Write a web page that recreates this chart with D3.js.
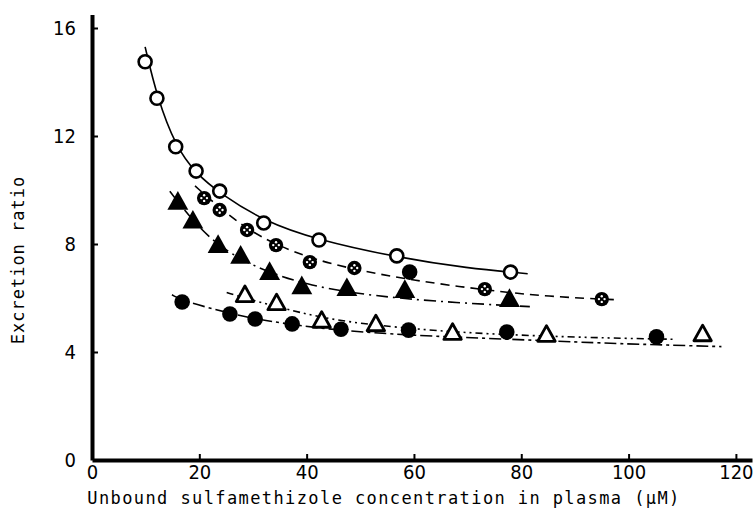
<!DOCTYPE html>
<html>
<head>
<meta charset="utf-8">
<script src="https://cdn.jsdelivr.net/npm/d3@7"></script>
<style>
  body { margin: 0; background: #fff; }
  svg text { font-family: "DejaVu Sans Mono", "Liberation Mono", monospace; fill: #000; }
</style>
</head>
<body>
<div id="chart"></div>
<script>
// data: [unbound conc (uM), excretion ratio]
const openCircles = [[9.9,14.75],[12.1,13.4],[15.6,11.6],[19.4,10.7],[23.8,9.96],[32.0,8.78],[42.3,8.15],[56.8,7.56],[78.0,6.96]];
const crossedCircles = [[20.9,9.7],[23.8,9.26],[28.9,8.52],[34.3,7.96],[40.6,7.33],[48.9,7.11],[73.2,6.33],[95.0,5.96]];
const extraFilled = [[59.2,6.96]];
const filledTriangles = [[16.0,9.55],[18.8,8.85],[23.5,7.95],[27.7,7.55],[33.1,6.95],[39.1,6.42],[47.5,6.35],[58.3,6.28],[77.8,5.95]];
const openTriangles = [[28.5,6.1],[34.4,5.8],[42.8,5.15],[52.9,5.02],[67.2,4.7],[84.7,4.63],[113.8,4.65]];
const filledCircles = [[16.8,5.85],[25.7,5.41],[30.4,5.22],[37.3,5.04],[46.4,4.84],[59.0,4.81],[77.3,4.74],[105.2,4.56]];

// fitted curves
const openCircleFit = [[9.9,15.3],[12.1,13.45],[15.6,11.6],[19.4,10.6],[24,9.85],[32,8.85],[42,8.15],[57,7.5],[70,7.1],[81.2,6.9]];
const crossedFit = [[19.2,10.15],[24,9.3],[29,8.55],[34,8.0],[41,7.45],[49,7.05],[60,6.65],[73,6.3],[85,6.05],[98.3,5.93]];
const filledTriFit = [[14.5,9.95],[19,8.8],[23.5,7.95],[28,7.4],[33,6.95],[40,6.5],[48,6.2],[58,5.97],[70,5.8],[81.6,5.68]];
const openTriFit = [[25.1,6.2],[28.5,6.0],[34,5.7],[43,5.25],[53,4.98],[68,4.72],[85,4.58],[100,4.5],[108.9,4.47]];
const filledCircleFit = [[14.9,6.12],[17,5.88],[26,5.42],[30,5.24],[37,5.02],[46,4.8],[59,4.62],[77,4.48],[95,4.33],[105,4.27],[117.3,4.2]];

const xTicks = [0, 20, 40, 60, 80, 100, 120];
const yTicks = [0, 4, 8, 12, 16];

const width = 754, height = 512;
const svg = d3.select('#chart').append('svg')
    .attr('width', width)
    .attr('height', height);

const xScale = d3.scaleLinear().domain([0, 123]).range([92, 752]);
const yScale = d3.scaleLinear().domain([0, 16.5]).range([460, 14.5]);

// fit lines
const line = d3.line()
    .x(d => xScale(d[0]))
    .y(d => yScale(d[1]))
    .curve(d3.curveBasis);

const fits = [
    {data: openCircleFit, dash: null},
    {data: crossedFit, dash: '9,6'},
    {data: filledTriFit, dash: '12,5,2,5'},
    {data: openTriFit, dash: '7,4,2,4,2,4'},
    {data: filledCircleFit, dash: '12,4,3,4'}
];

svg.selectAll('.fit')
    .data(fits)
    .join('path')
    .attr('class', 'fit')
    .attr('d', d => line(d.data))
    .attr('fill', 'none')
    .attr('stroke', '#000')
    .attr('stroke-width', 1.6)
    .attr('stroke-dasharray', d => d.dash);

// markers
const triPath = (cx, cy, s) => `M${cx},${cy - s * 0.62}L${cx + s * 0.58},${cy + s * 0.42}L${cx - s * 0.58},${cy + s * 0.42}Z`;

svg.selectAll('.open-circle')
    .data(openCircles)
    .join('circle')
    .attr('class', 'open-circle')
    .attr('cx', d => xScale(d[0]))
    .attr('cy', d => yScale(d[1]))
    .attr('r', 6.5)
    .attr('fill', '#fff')
    .attr('stroke', '#000')
    .attr('stroke-width', 2.6);

const crossed = svg.selectAll('.crossed')
    .data(crossedCircles)
    .join('g')
    .attr('class', 'crossed')
    .attr('transform', d => `translate(${xScale(d[0])},${yScale(d[1])})`);
crossed.append('circle').attr('r', 7.2).attr('fill', '#000');
crossed.selectAll('.dot')
    .data([[-2.8,0],[2.8,0],[0,-2.8],[0,2.8]])
    .join('circle')
    .attr('class', 'dot')
    .attr('cx', d => d[0])
    .attr('cy', d => d[1])
    .attr('r', 1.2)
    .attr('fill', '#fff');

svg.selectAll('.filled-circle')
    .data(filledCircles.concat(extraFilled))
    .join('circle')
    .attr('class', 'filled-circle')
    .attr('cx', d => xScale(d[0]))
    .attr('cy', d => yScale(d[1]))
    .attr('r', 7.8)
    .attr('fill', '#000');

svg.selectAll('.filled-tri')
    .data(filledTriangles)
    .join('path')
    .attr('class', 'filled-tri')
    .attr('d', d => triPath(xScale(d[0]), yScale(d[1]), 18))
    .attr('fill', '#000');

svg.selectAll('.open-tri')
    .data(openTriangles)
    .join('path')
    .attr('class', 'open-tri')
    .attr('d', d => triPath(xScale(d[0]), yScale(d[1]), 15))
    .attr('fill', '#fff')
    .attr('stroke', '#000')
    .attr('stroke-width', 2.8)
    .attr('stroke-linejoin', 'round');

// axes
const xAxis = svg.append('g')
    .attr('transform', `translate(0,${yScale(0)})`)
    .call(d3.axisBottom(xScale).tickValues(xTicks).tickSize(-6).tickPadding(7).tickSizeOuter(0));
const yAxis = svg.append('g')
    .attr('transform', `translate(${xScale(0)},0)`)
    .call(d3.axisLeft(yScale).tickValues(yTicks).tickSize(-6).tickPadding(16).tickSizeOuter(0));

[xAxis, yAxis].forEach(ax => {
    ax.select('.domain').attr('stroke', '#000').attr('stroke-width', 4);
    ax.selectAll('.tick line').attr('stroke', '#000').attr('stroke-width', 2);
    ax.selectAll('.tick text')
        .style('font-family', '"DejaVu Sans Condensed", "Liberation Sans Narrow", sans-serif')
        .style('font-size', '20px');
});
xAxis.selectAll('.tick').filter(d => d === 0).select('line').remove();
yAxis.selectAll('.tick').filter(d => d === 0).select('line').remove();
xAxis.selectAll('.tick text').attr('dy', '0.6em');

// axis labels
svg.append('text')
    .attr('x', 384)
    .attr('y', 504)
    .attr('text-anchor', 'middle')
    .style('font-size', '17px')
    .style('letter-spacing', '1.4px')
    .text('Unbound sulfamethizole concentration in plasma (μM)');

svg.append('text')
    .attr('transform', 'translate(24,260) rotate(-90)')
    .attr('text-anchor', 'middle')
    .style('font-size', '17px')
    .style('letter-spacing', '1px')
    .text('Excretion ratio');
</script>
</body>
</html>
